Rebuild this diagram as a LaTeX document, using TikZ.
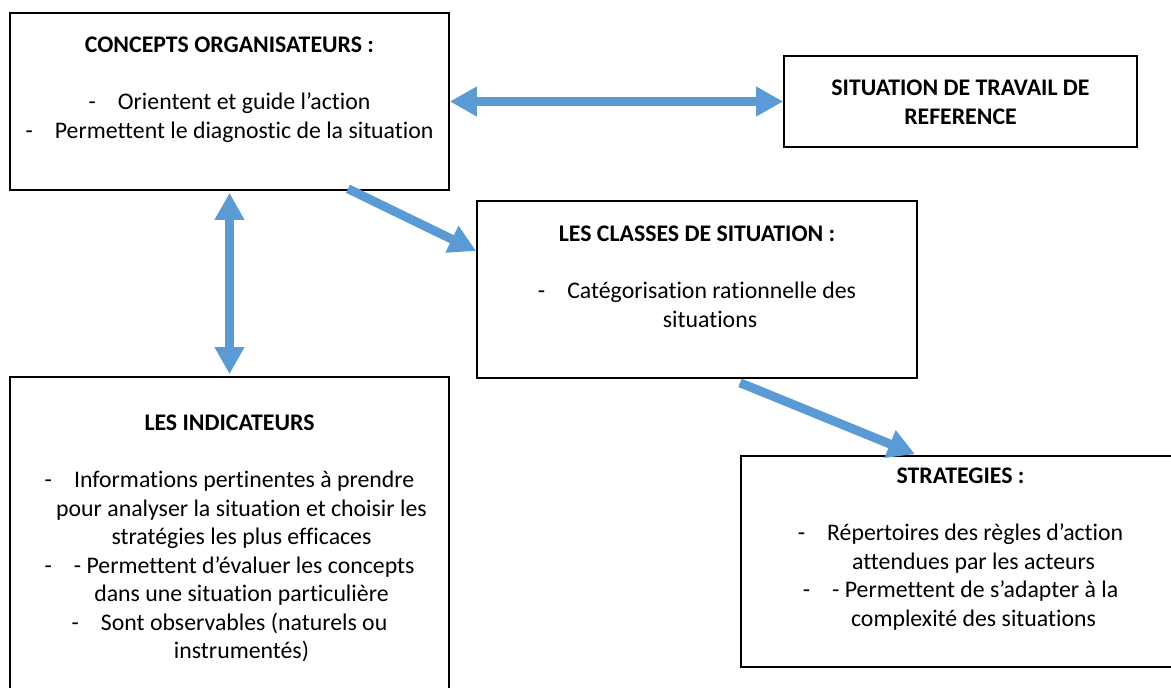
\documentclass[tikz,border=0pt]{standalone}
\usepackage{fontspec}
\setmainfont{Carlito}[Ligatures=NoCommon]
\usetikzlibrary{arrows.meta,calc}

\newlength{\du}
\setlength{\du}{0.5pt}

\definecolor{arrowblue}{RGB}{91,155,213}

\tikzset{
  boite/.style={draw=black, line width=1.6\du, minimum width=#1, inner sep=0pt},
  texte/.style={align=center, font=\fontsize{11.9}{14.25}\selectfont, inner sep=0pt},
  fleche/.style={draw=arrowblue, line width=9\du,
    -{Triangle[width=14pt, length=13.5pt]}},
  doublefleche/.style={draw=arrowblue, line width=9\du,
    {Triangle[width=14pt, length=13.5pt]}-{Triangle[width=14pt, length=13.5pt]}}
}

\newcommand{\tiret}{-\hspace{11pt}}

\begin{document}
\begin{tikzpicture}
\pgftransformyscale{-1.000000}
\useasboundingbox (0\du,0\du) rectangle (1171\du,688\du);

% cadres
\node[boite=439\du, minimum height=177\du] (concepts) at (229.5\du,101.5\du){};
\node[boite=353\du, minimum height=91\du] (reference) at (960.5\du,101.5\du){};
\node[boite=440\du, minimum height=177\du] (classes) at (697\du,289.5\du){};
\node[boite=439\du, minimum height=323\du] (indicateurs) at (229.5\du,538.5\du){};
\node[boite=439\du, minimum height=211\du] (strategies) at (960.5\du,561.5\du){};

% textes
\node[texte] (tconcepts) at (229.5\du,89.5\du){\textbf{CONCEPTS ORGANISATEURS :}\\[14.25pt]
\tiret Orientent et guide l’action\\
\tiret Permettent le diagnostic de la situation};
\node[texte] (treference) at (960.5\du,102.5\du){\textbf{SITUATION DE TRAVAIL DE}\\
\textbf{REFERENCE}};
\node[texte] (tclasses) at (697\du,277\du){\textbf{LES CLASSES DE SITUATION :}\\[14.25pt]
\tiret Catégorisation rationnelle des\\
\hspace*{13pt}situations};
\node[texte] (tindicateurs) at (229.5\du,538.5\du){\textbf{LES INDICATEURS}\\[14.25pt]
\tiret Informations pertinentes à prendre\\
\hspace*{12pt}pour analyser la situation et choisir les\\
\hspace*{12pt}stratégies les plus efficaces\\
\tiret - Permettent d’évaluer les concepts\\
\hspace*{12pt}dans une situation particulière\\
\tiret Sont observables (naturels ou\\
\hspace*{12pt}instrumentés)};
\node[texte] (tstrategies) at (960.5\du,549\du){\textbf{STRATEGIES :}\\[14.25pt]
\tiret Répertoires des règles d’action\\
\hspace*{13pt}attendues par les acteurs\\
\tiret - Permettent de s’adapter à la\\
\hspace*{13pt}complexité des situations};

% fleches
\draw[doublefleche] (concepts.east) -- (reference.west);
\draw[doublefleche, shorten <=2\du, shorten >=2\du] (concepts.south) -- (indicateurs.north);
\draw[fleche] ($(concepts.south)+(118.5\du,-2\du)$) -- ($(classes.west)+(0\du,-38.5\du)$);
\draw[fleche] ($(classes.south)+(43\du,4\du)$) -- ($(strategies.north)+(-45.5\du,-1\du)$);
\end{tikzpicture}
\end{document}
